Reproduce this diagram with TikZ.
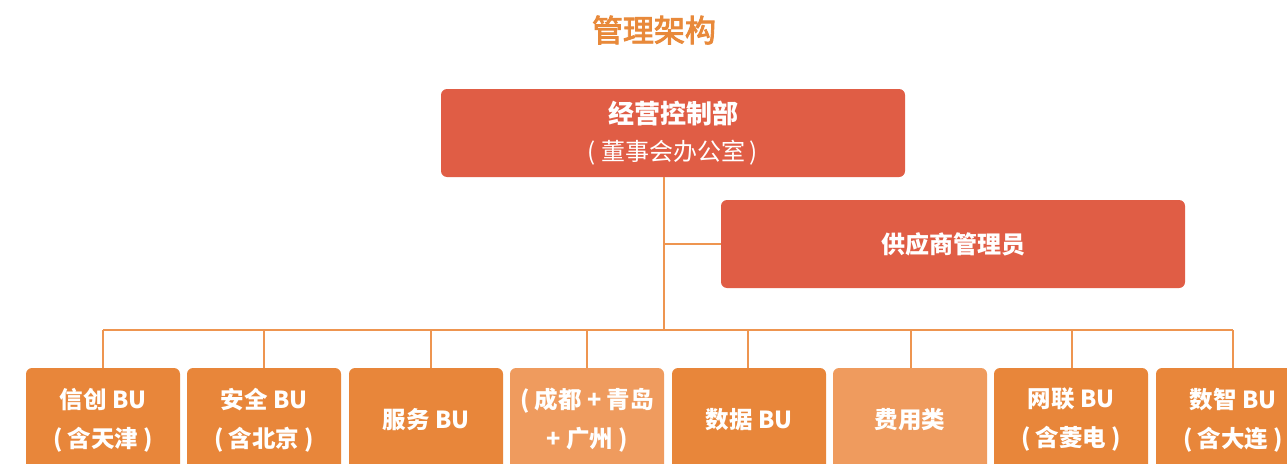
\documentclass[tikz,border=0pt]{standalone}
\usepackage{fontspec}
\setmainfont{Noto Sans CJK SC}
\newfontfamily\titlefont{Noto Sans CJK SC}[FakeBold=3]
\definecolor{redbox}{HTML}{E05D45}
\definecolor{orbox}{HTML}{E8863A}
\definecolor{ltbox}{HTML}{EF9B5E}
\definecolor{lineor}{HTML}{EE9550}
\definecolor{titleor}{HTML}{E8893A}
\newcommand{\po}{(\hspace{5pt}}
\newcommand{\pc}{\hspace{5pt})}
\begin{document}
\begin{tikzpicture}[x=1pt,y=-1pt,
  box/.style={draw=none, rounded corners=6pt, inner sep=0pt, text=white, align=center, font=\bfseries\fontsize{23.5}{39}\selectfont},
  topbox/.style={box, fill=redbox, minimum width=464pt, minimum height=88pt},
  bubox/.style={box, fill=orbox, minimum width=154pt, minimum height=104pt},
  ltbubox/.style={bubox, fill=ltbox},
  conn/.style={draw=lineor, line width=1.6pt}]
\useasboundingbox (0,0) rectangle (1287,463);
\clip (0,0) rectangle (1287,463);
\node[font=\titlefont\fontsize{31}{31}\selectfont, text=titleor] (title) at (654,30) {管理架构};
\node[topbox, font=\fontsize{24}{37}\selectfont] (top) at (673,133) {{\bfseries\fontsize{26}{37}\selectfont 经营控制部}\\\po 董事会办公室\pc};
\node[topbox, font=\bfseries\fontsize{24}{30}\selectfont] (supp) at (953,244) {供应商管理员};
\node[bubox] (b1) at (103,420) {信创 BU\\\po 含天津\pc};
\node[bubox] (b2) at (264,420) {安全 BU\\\po 含北京\pc};
\node[bubox] (b3) at (426,420) {服务 BU};
\node[ltbubox] (b4) at (587,420) {\po 成都 + 青岛\\+ 广州\pc};
\node[bubox] (b5) at (749,420) {数据 BU};
\node[ltbubox] (b6) at (910,420) {费用类};
\node[bubox] (b7) at (1071,420) {网联 BU\\\po 含菱电\pc};
\node[bubox] (b8) at (1233,420) {数智 BU\\\po 含大连\pc};
\coordinate (spine) at (664,330);
\coordinate (d1) at (103,330);
\coordinate (d2) at (264,330);
\coordinate (d3) at (431,330);
\coordinate (d4) at (587,330);
\coordinate (d5) at (748,330);
\coordinate (d6) at (911,330);
\coordinate (d7) at (1072,330);
\coordinate (d8) at (1233,330);
\draw[conn] (top.south -| spine) -- (spine);
\draw[conn] (supp.west) -- (supp.west -| spine);
\draw[conn] (d1) -- (d8);
\foreach \i in {1,...,8} {\draw[conn] (d\i) -- (d\i |- b\i.north);}
\end{tikzpicture}
\end{document}
